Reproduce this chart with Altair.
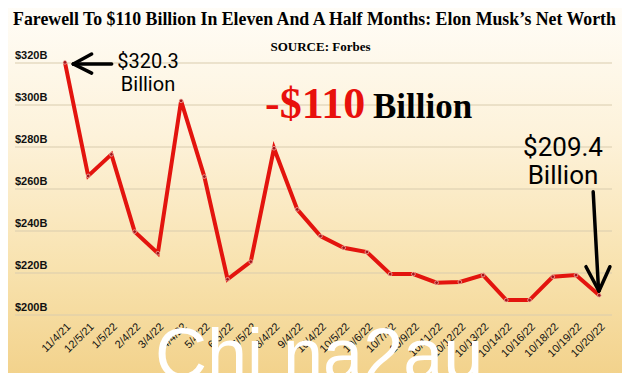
import altair as alt
import pandas as pd

# ---- data ----
dates = ["11/4/21", "12/5/21", "1/5/22", "2/4/22", "3/4/22", "4/4/22", "5/4/22",
         "6/5/22", "7/5/22", "8/4/22", "9/4/22", "10/4/22", "10/5/22", "10/6/22",
         "10/7/22", "10/9/22", "10/11/22", "10/12/22", "10/13/22", "10/14/22",
         "10/16/22", "10/18/22", "10/19/22", "10/20/22"]
worth = [320.3, 266.2, 276.5, 239.7, 229.4, 302.0, 265.9, 217.0, 225.4, 279.4,
         250.3, 237.6, 232.0, 230.0, 219.5, 219.5, 215.4, 215.7, 219.0, 207.1,
         207.1, 218.2, 219.0, 209.4]
y_ticks = [200, 220, 240, 260, 280, 300, 320]
y_tick_labels = [f"${t}B" for t in y_ticks]

# annotation arrows (data units: x = date index, y = $B)
arrow_x = [0.36, 0.36, 0.36, 22.74, 22.99, 22.99]
arrow_y = [319.5, 319.5, 319.5, 258.7, 211.4, 211.4]
arrow_x2 = [2.01, 1.15, 1.15, 22.97, 22.43, 23.46]
arrow_y2 = [319.5, 324.3, 315.2, 212.0, 223.0, 223.0]

df = pd.DataFrame({"i": list(range(len(dates))), "date": dates, "worth": worth})
ticks_df = pd.DataFrame({"t": y_ticks, "label": y_tick_labels})
arrows_df = pd.DataFrame({"x": arrow_x, "y": arrow_y, "x2": arrow_x2, "y2": arrow_y2})
one = pd.DataFrame({"a": [0]})

W, H = 597, 252
xs = alt.Scale(domain=[-2.15, 23.55], nice=False, zero=False)
ys = alt.Scale(domain=[200, 320], nice=False, zero=False)

SERIF = "Liberation Serif"
SANS = "Roboto"

bg = alt.Chart(one).mark_rect(
    fill=alt.Gradient(
        gradient="linear",
        stops=[alt.GradientStop(color="#fffdf8", offset=0),
               alt.GradientStop(color="#fdf2da", offset=0.35),
               alt.GradientStop(color="#f8e2ae", offset=0.7),
               alt.GradientStop(color="#f2d189", offset=1)],
        x1=0, x2=0, y1=0, y2=1)
).encode(x=alt.value(-20), x2=alt.value(640), y=alt.value(-60), y2=alt.value(320))

grid = alt.Chart(ticks_df).mark_rule(color="#d9ccae", strokeWidth=1).encode(
    y=alt.Y("t:Q", scale=ys, axis=None)
)

ylabels = alt.Chart(ticks_df).mark_text(
    align="left", baseline="bottom", dy=-2, font="Liberation Sans",
    fontSize=11, fontWeight="bold", color="#111"
).encode(x=alt.value(0), y=alt.Y("t:Q", scale=ys, axis=None), text="label:N")

line = alt.Chart(df).mark_line(color="#e3140e", strokeWidth=4).encode(
    x=alt.X("i:Q", scale=xs, axis=None),
    y=alt.Y("worth:Q", scale=ys, axis=None),
)
pts = alt.Chart(df).mark_circle(size=14, color="#a3161a", opacity=1,
                                stroke="#f6c0b4", strokeWidth=0.7).encode(
    x=alt.X("i:Q", scale=xs, axis=None),
    y=alt.Y("worth:Q", scale=ys, axis=None),
)

xlabels = alt.Chart(df).mark_text(
    angle=315, align="right", baseline="top", font="Liberation Sans",
    fontSize=11, color="#111"
).encode(x=alt.X("i:Q", scale=xs, axis=None), y=alt.value(258), text="date:N")

arrows = alt.Chart(arrows_df).mark_rule(color="#000", strokeWidth=3.5, strokeCap="round").encode(
    x=alt.X("x:Q", scale=xs, axis=None), x2="x2:Q",
    y=alt.Y("y:Q", scale=ys, axis=None), y2="y2:Q",
)

def txt(text, x, y, **kw):
    return alt.Chart(one).mark_text(text=text, **kw).encode(x=alt.value(x), y=alt.value(y))

title = txt("Farewell To $110 Billion In Eleven And A Half Months: Elon Musk\u2019s Net Worth",
            299.5, -38, font=SERIF, fontSize=17.8, fontWeight="bold", align="center",
            baseline="alphabetic", color="#000")
source = txt("SOURCE: Forbes", 305.5, -12, font=SERIF, fontSize=13, fontWeight="bold",
             align="center", baseline="alphabetic", color="#000")
big_red = txt("-$110", 250, 55, font=SERIF, fontSize=44, fontWeight="bold",
              align="left", baseline="alphabetic", color="#e8100c")
big_bil = txt("Billion", 358, 55, font=SERIF, fontSize=35, fontWeight="bold",
              align="left", baseline="alphabetic", color="#000")
ann1 = txt(["$320.3", "Billion"], 133, 5, font=SANS, fontSize=20, lineHeight=23,
           align="center", baseline="alphabetic", color="#000")
ann2 = txt(["$209.4", "Billion"], 548, 93, font=SANS, fontSize=26, lineHeight=28,
           align="center", baseline="alphabetic", color="#000")
watermark = txt("Chi na2au", 140, 316, font="Liberation Sans", fontSize=72,
                align="left", baseline="alphabetic", color="#ffffff")

chart = alt.layer(
    bg, grid, ylabels, line, pts, xlabels, arrows,
    title, source, big_red, big_bil, ann1, ann2, watermark
).properties(
    width=W, height=H,
    autosize=alt.AutoSizeParams(type="none"),
    padding={"left": 7, "top": 55, "right": 10, "bottom": 58},
).configure_view(stroke=None).configure(background="#f8e6b8")

chart.save("out.html", embed_options={"renderer": "svg", "actions": False})
